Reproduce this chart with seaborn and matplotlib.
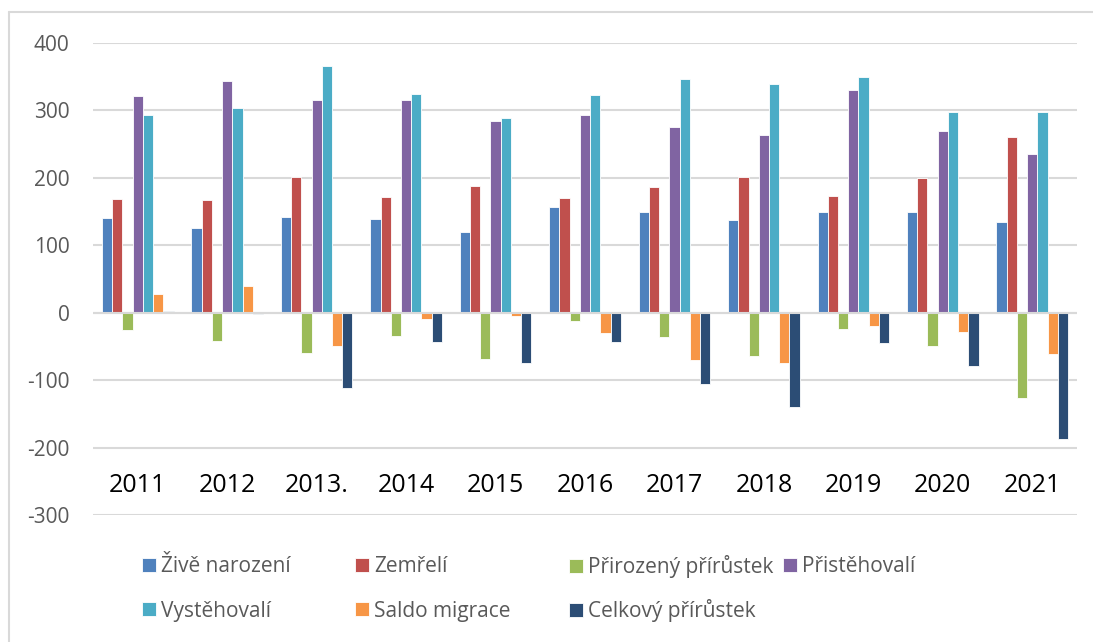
import pandas as pd
import matplotlib.pyplot as plt
import seaborn as sns
from matplotlib.lines import Line2D

roky = ["2011", "2012", "2013.", "2014", "2015", "2016", "2017", "2018", "2019", "2020", "2021"]

zive_narozeni = [141, 125, 142, 139, 119, 157, 150, 138, 149, 150, 134]
zemreli = [168, 167, 202, 172, 188, 170, 187, 202, 173, 200, 260]
prirozeny_prirustek = [-26, -42, -60, -34, -69, -13, -36, -64, -24, -50, -126]
pristehovali = [322, 344, 315, 315, 284, 293, 275, 263, 330, 269, 236]
vystehovali = [293, 304, 366, 324, 289, 323, 346, 339, 350, 298, 298]
saldo_migrace = [28, 39, -50, -9, -5, -30, -70, -75, -20, -29, -61]
celkovy_prirustek = [2, -2, -111, -43, -74, -44, -106, -140, -45, -79, -187]

serie = {
    "Živě narození": zive_narozeni,
    "Zemřelí": zemreli,
    "Přirozený přírůstek": prirozeny_prirustek,
    "Přistěhovalí": pristehovali,
    "Vystěhovalí": vystehovali,
    "Saldo migrace": saldo_migrace,
    "Celkový přírůstek": celkovy_prirustek,
}
barvy = ["#4F81BD", "#C0504D", "#9BBB59", "#8064A2", "#4BACC6", "#F79646", "#2C4D75"]

rows = []
for nazev, hodnoty in serie.items():
    for rok, h in zip(roky, hodnoty):
        rows.append({"rok": rok, "ukazatel": nazev, "hodnota": h})
df = pd.DataFrame(rows)

sns.set_style("white")
plt.rcParams["font.family"] = ["Open Sans", "DejaVu Sans"]
plt.rcParams["axes.unicode_minus"] = False

fig = plt.figure(figsize=(10.93, 6.42), dpi=100)
ax = fig.add_axes([93 / 1093, 1 - 515 / 642, (1077 - 93) / 1093, (515 - 43) / 642])

sns.barplot(data=df, x="rok", y="hodnota", hue="ukazatel", palette=barvy, saturation=1,
            width=0.8, edgecolor="white", linewidth=0.6, ax=ax, legend=True)

ax.set_ylim(-300, 400)
ax.set_yticks(range(-300, 401, 100))
ax.set_xlim(-0.5, len(roky) - 0.5)
ax.yaxis.grid(True, color="#d9d9d9", linewidth=1.5)
ax.set_axisbelow(True)
ax.axhline(0, color="#d9d9d9", linewidth=1.5, zorder=3)
for s in ax.spines.values():
    s.set_visible(False)
ax.set_xlabel("")
ax.set_ylabel("")
ax.tick_params(axis="y", length=0, pad=17, labelsize=15, labelcolor="#595959")
ax.tick_params(axis="x", length=0, pad=-30, labelsize=18, labelcolor="#000000")

handles, labels = ax.get_legend_handles_labels()
ax.get_legend().remove()
# legenda: kazda polozka zvlast, aby sedely sloupce jako v Excelu
xpos = [142, 355, 569, 783, 142, 355, 569]
ypos = [567, 567, 567, 567, 611, 611, 611]
for h, lab, x, y in zip(handles, labels, xpos, ypos):
    fig.legend([h], [lab], loc="center left", bbox_to_anchor=(x / 1093, 1 - y / 642),
               frameon=False, handlelength=0.68, handleheight=0.68,
               handletextpad=0.25, borderpad=0, borderaxespad=0,
               fontsize=15, labelcolor="#595959")

# horni a leva linka ramecku
fig.lines.append(Line2D([9 / 1093, 1], [1 - 12 / 642, 1 - 12 / 642], transform=fig.transFigure,
                        color="#d9d9d9", linewidth=1.5))
fig.lines.append(Line2D([9 / 1093, 9 / 1093], [0, 1 - 12 / 642], transform=fig.transFigure,
                        color="#d9d9d9", linewidth=1.5))

fig.savefig("out.png", dpi=100)
